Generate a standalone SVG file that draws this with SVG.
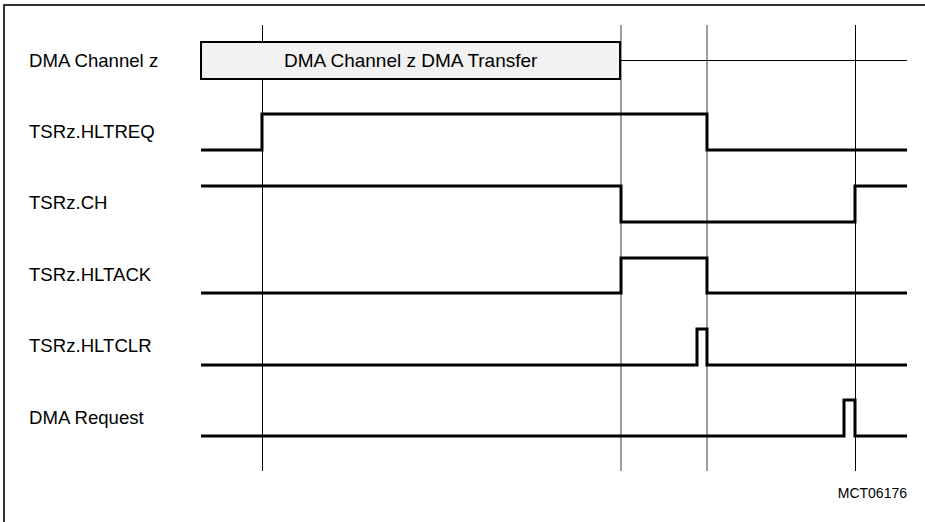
<svg xmlns="http://www.w3.org/2000/svg" width="925" height="522" viewBox="0 0 925 522">
<style>
.lbl{font-family:"Liberation Sans",Arial,sans-serif;font-size:18.6px;fill:#000}
.sig{fill:none;stroke:#000;stroke-width:3;stroke-linejoin:miter}
.guide{stroke:#000;stroke-width:1}
.guide2{stroke:#6a6a6a;stroke-width:1.3}
</style>
<rect x="0" y="0" width="925" height="522" fill="#fff"/>
<rect x="4" y="5" width="930" height="530" fill="none" stroke="#000" stroke-width="1.6"/>
<g id="guides">
<line class="guide" x1="262.5" y1="25" x2="262.5" y2="471"/>
<line class="guide2" x1="621" y1="25" x2="621" y2="471"/>
<line class="guide2" x1="707" y1="25" x2="707" y2="471"/>
<line class="guide" x1="855.5" y1="25" x2="855.5" y2="471"/>
</g>
<g id="labels">
<text class="lbl" x="29" y="67">DMA Channel z</text>
<text class="lbl" x="29" y="138">TSRz.HLTREQ</text>
<text class="lbl" x="29" y="209">TSRz.CH</text>
<text class="lbl" x="29" y="281">TSRz.HLTACK</text>
<text class="lbl" x="29" y="352">TSRz.HLTCLR</text>
<text class="lbl" x="29" y="424">DMA Request</text>
</g>
<g id="dma-transfer">
<rect x="201" y="42" width="419" height="37" fill="#f2f2f2" stroke="#000" stroke-width="2"/>
<text class="lbl" x="284" y="67" style="font-size:19px">DMA Channel z DMA Transfer</text>
<line x1="620" y1="60.5" x2="907" y2="60.5" stroke="#000" stroke-width="1"/>
</g>
<g id="signals">
<polyline id="hltreq" class="sig" points="201,150 262,150 262,114 707,114 707,150 907,150"/>
<polyline id="ch" class="sig" points="201,186 621,186 621,222 855,222 855,186 907,186"/>
<polyline id="hltack" class="sig" points="201,293 621,293 621,258 707,258 707,293 907,293"/>
<polyline id="hltclr" class="sig" points="201,365 697,365 697,329 707,329 707,365 907,365"/>
<polyline id="dmareq" class="sig" points="201,436 844,436 844,400 855,400 855,436 907,436"/>
</g>
<text x="907" y="498" text-anchor="end" style="font-family:'Liberation Sans',Arial,sans-serif;font-size:14px;fill:#000">MCT06176</text>
</svg>
